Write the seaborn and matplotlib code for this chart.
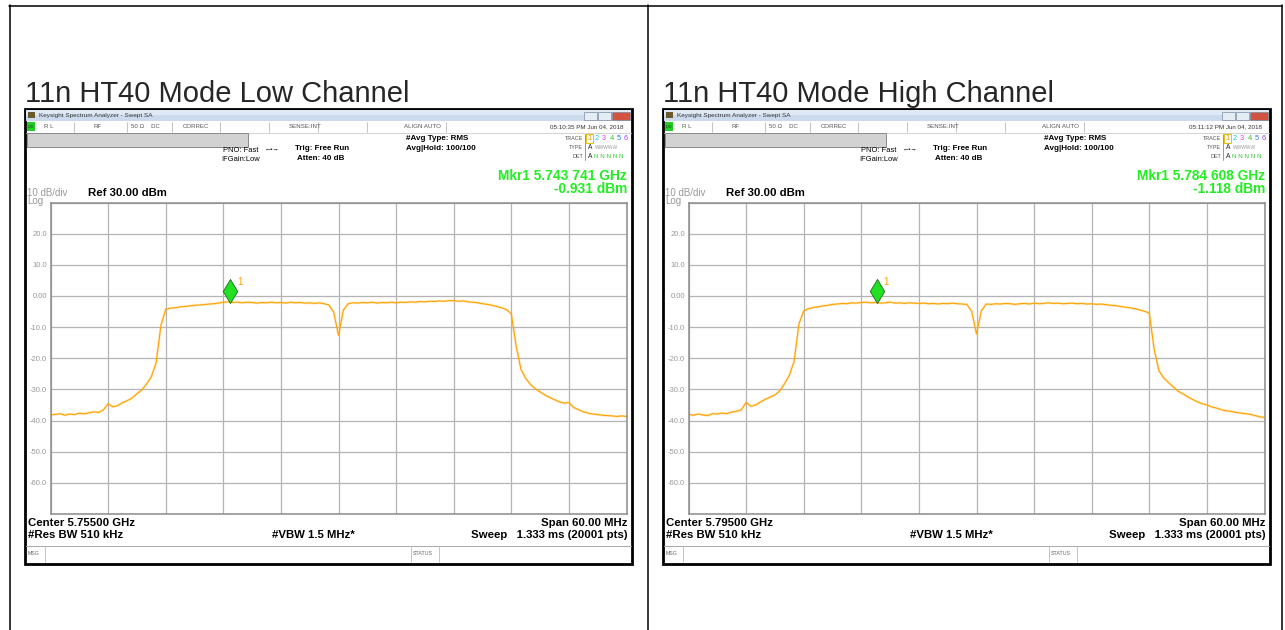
import numpy as np
import seaborn as sns
import matplotlib.pyplot as plt
from matplotlib.patches import Rectangle
from matplotlib import transforms

# page / table data
titles = ["11n HT40 Mode Low Channel", "11n HT40 Mode High Channel"]
center_labels = ["Center 5.75500 GHz", "Center 5.79500 GHz"]
timestamps = ["05:10:35 PM Jun 04, 2018", "05:11:12 PM Jun 04, 2018"]
marker_freq_labels = ["Mkr1 5.743 741 GHz", "Mkr1 5.784 608 GHz"]
marker_level_labels = ["-0.931 dBm", "-1.118 dBm"]
marker_offset_mhz = [-11.259, -10.392]   # marker freq - center freq
marker_level_dbm = [-0.931, -1.118]

# trace: offset from center in MHz (span 60 MHz), level in dBm
offset_mhz = np.arange(-30, 30.01, 0.5)
low_trace = [
    -38.2, -38.0, -37.8, -38.3, -37.9, -38.1, -37.6, -37.9, -37.5, -37.2, -37.4, -36.6,
    -34.6, -35.6, -35.2, -34.3, -33.6, -32.8, -31.4, -30.2, -28.3, -26.0, -21.5, -9.5,
    -4.3, -3.9, -3.8, -3.5, -3.4, -3.2, -3.0, -2.9, -2.8, -2.6, -2.5, -2.3,
    -2.0, -1.9, -2.1, -2.0, -2.2, -2.0, -2.1, -2.3, -2.1, -2.2, -2.0, -2.2,
    -2.1, -2.3, -2.0, -2.2, -2.1, -2.3, -2.2, -2.4, -2.2, -2.5, -2.9, -5.2,
    -12.7, -4.6, -2.5, -2.2, -2.3, -2.1, -2.2, -2.0, -2.3, -2.1, -2.2, -2.0,
    -2.2, -2.0, -2.1, -1.9, -2.0, -1.8, -1.9, -1.7, -1.8, -1.6, -1.7, -1.5,
    -1.5, -1.7, -1.6, -1.9, -2.0, -2.2, -2.5, -2.7, -3.0, -3.4, -3.8, -4.4,
    -5.7, -16.0, -23.5, -26.5, -28.4, -29.8, -30.8, -31.8, -32.6, -33.3, -34.0, -34.4,
    -34.2, -35.8, -36.5, -37.2, -37.6, -37.9, -38.1, -38.3, -38.4, -38.5, -38.7, -38.5,
    -38.7,
]
high_trace = [
    -38.0, -38.3, -37.9, -38.2, -38.4, -37.8, -37.9, -37.6, -37.8, -37.3, -37.0, -36.6,
    -34.2, -35.4, -35.0, -34.0, -33.2, -32.5, -31.8, -30.5, -28.2, -25.5, -21.0, -9.0,
    -4.8, -4.1, -3.7, -3.5, -3.2, -3.0, -2.7, -2.6, -2.4, -2.5, -2.2, -2.3,
    -2.1, -2.0, -2.2, -2.1, -2.3, -2.2, -2.0, -2.3, -2.2, -2.4, -2.2, -2.3,
    -2.4, -2.3, -2.5, -2.4, -2.6, -2.4, -2.5, -2.3, -2.5, -2.6, -2.7, -5.0,
    -12.2, -4.8, -2.6, -2.7, -2.5, -2.6, -2.4, -2.5, -2.7, -2.5, -2.4, -2.6,
    -2.3, -2.5, -2.4, -2.2, -2.4, -2.3, -2.5, -2.4, -2.3, -2.5, -2.4, -2.6,
    -2.5, -2.7, -2.6, -2.8, -3.0, -3.1, -3.4, -3.6, -3.8, -4.1, -4.5, -4.9,
    -5.5, -17.0, -24.0, -26.3, -27.8, -29.2, -30.6, -31.4, -32.4, -33.2, -34.0, -34.6,
    -35.0, -35.6, -36.0, -36.5, -36.9, -37.0, -37.4, -37.6, -37.8, -38.0, -38.4, -38.8,
    -39.0,
]
traces = [low_trace, high_trace]
ytick_values = [30, 20, 10, 0, -10, -20, -30, -40, -50, -60, -70]
ytick_labels = ["", "20.0", "10.0", "0.00", "-10.0", "-20.0", "-30.0", "-40.0", "-50.0", "-60.0", ""]
trace_digits = ["1", "2", "3", "4", "5", "6"]
trace_digit_colors = ["#e89a00", "#00c8f0", "#ff30ff", "#30c030", "#3070ff", "#a040ff"]

W, H = 1285, 630
sns.set_style("white")
plt.rcParams["font.family"] = ["Liberation Sans", "DejaVu Sans"]

fig = plt.figure(figsize=(W / 100, H / 100), dpi=100)
bg = fig.add_axes([0, 0, 1, 1])
bg.set_xlim(0, W)
bg.set_ylim(H, 0)
bg.axis("off")


def px_rect(x0, y0, x1, y1):
    return [x0 / W, 1 - y1 / H, (x1 - x0) / W, (y1 - y0) / H]


def txt(x, y, s, size=5, color="black", weight="normal", ha="left", **kw):
    bg.text(x, y, s, fontsize=size, color=color, fontweight=weight, ha=ha, va="center", **kw)


# table lines
bg.plot([9, 1282], [5.5, 5.5], color="black", lw=1.1)
for xl in [9.5, 648, 1281.5]:
    bg.plot([xl, xl], [5, 630], color="black", lw=1.1)


def draw_panel(k, dx):
    trace = traces[k]
    # title above screenshot
    bg.text(25 + dx, 102, titles[k], fontsize=21, va="baseline", ha="left")

    # window frame
    bg.add_patch(Rectangle((25 + dx, 109), 607, 455, fc="white", ec="black", lw=2.0, zorder=1))
    # title bar
    bg.add_patch(Rectangle((26 + dx, 110), 605, 5, fc="#dfe9f6", ec="none", zorder=2))
    bg.add_patch(Rectangle((26 + dx, 115), 605, 6, fc="#cbdaed", ec="none", zorder=2))
    bg.add_patch(Rectangle((28 + dx, 112), 7, 6, fc="#6b5a2a", ec="none", zorder=3))
    txt(39 + dx, 115.5, "Keysight Spectrum Analyzer - Swept SA", size=4.6, color="#333333", zorder=4)
    for bx, bw, col in [(584, 13, "#e4ecf6"), (598, 13, "#e4ecf6"), (612, 18, "#d2533f")]:
        bg.add_patch(Rectangle((bx + dx, 111.5), bw, 8, fc=col, ec="#7a8aa0", lw=0.5, zorder=3))
    # status row
    bg.add_patch(Rectangle((27 + dx, 121.5), 8, 9.5, fc="#22cc22", ec="none", zorder=3))
    txt(28 + dx, 126.5, "LXI", size=3.2, color="#114411", zorder=4)
    for sx in [74, 127, 172, 220, 269, 318, 367, 446]:
        bg.plot([sx + dx, sx + dx], [122, 132], color="#bbbbbb", lw=0.6, zorder=3)
    bg.plot([26 + dx, 631 + dx], [132.5, 132.5], color="#cccccc", lw=0.6, zorder=3)
    for sx, s in [(44, "R L"), (93, "RF"), (131, "50 \u03a9    DC"), (183, "CORREC"),
                  (289, "SENSE:INT"), (404, "ALIGN AUTO")]:
        txt(sx + dx, 127, s, size=4.4, color="#555555", zorder=4)
    txt(624 + dx, 127, timestamps[k], size=4.5, color="#333333", ha="right", zorder=4)
    # gray message bar
    bg.add_patch(Rectangle((27 + dx, 133), 221, 14, fc="#d2d2d2", ec="#8a8a8a", lw=0.7, zorder=3))

    # settings text
    txt(258 + dx, 151, "PNO: Fast", size=5.4, ha="right", zorder=4)
    txt(260 + dx, 159.5, "IFGain:Low", size=5.4, ha="right", zorder=4)
    txt(265 + dx, 149.5, "\u2190\u2022\u2192", size=4.5, zorder=4)
    txt(295 + dx, 148, "Trig: Free Run", size=5.8, weight="bold", zorder=4)
    txt(297 + dx, 158, "Atten: 40 dB", size=5.8, weight="bold", zorder=4)
    txt(406 + dx, 138, "#Avg Type: RMS", size=5.8, weight="bold", zorder=4)
    txt(406 + dx, 148, "Avg|Hold: 100/100", size=5.8, weight="bold", zorder=4)

    # trace legend block
    txt(583 + dx, 138, "TRACE", size=3.9, color="#555555", ha="right", zorder=4)
    txt(583 + dx, 147.5, "TYPE", size=3.9, color="#555555", ha="right", zorder=4)
    txt(583 + dx, 156.5, "DET", size=3.9, color="#555555", ha="right", zorder=4)
    bg.plot([585 + dx, 585 + dx], [134, 160], color="#888888", lw=0.6, zorder=3)
    bg.add_patch(Rectangle((586 + dx, 133.5), 6.5, 9, fc="none", ec="#e8c000", lw=0.7, zorder=3))
    for j, (d, c) in enumerate(zip(trace_digits, trace_digit_colors)):
        txt(587.5 + dx + j * 7.3, 138, d, size=5.4, color=c, zorder=4)
    txt(587.5 + dx, 147.5, "A", size=4.8, color="#222222", zorder=4)
    txt(594.5 + dx, 147.5, "WWWWW", size=3.5, color="#999999", zorder=4)
    txt(587.5 + dx, 156.5, "A", size=4.8, color="#222222", zorder=4)
    txt(594.5 + dx, 156.5, "N N N N N", size=4.5, color="#33cc33", zorder=4)

    # marker readout
    txt(627 + dx, 176, marker_freq_labels[k], size=9.9, color="#22ee22", weight="bold", ha="right", zorder=4)
    txt(627 + dx, 189, marker_level_labels[k], size=9.9, color="#22ee22", weight="bold", ha="right", zorder=4)

    txt(27 + dx, 193.5, "10 dB/div", size=7, color="#999999", zorder=4)
    txt(27 + dx, 201, "Log", size=7, color="#999999", zorder=4)
    txt(88 + dx, 193, "Ref 30.00 dBm", size=8.2, weight="bold", zorder=4)

    # bottom annotation
    txt(28 + dx, 523, center_labels[k], size=8.2, weight="bold", zorder=4)
    txt(28 + dx, 535.5, "#Res BW 510 kHz", size=8.2, weight="bold", zorder=4)
    txt(313 + dx, 535.5, "#VBW 1.5 MHz*", size=8.2, weight="bold", ha="center", zorder=4)
    txt(627 + dx, 523, "Span 60.00 MHz", size=8.2, weight="bold", ha="right", zorder=4)
    txt(628 + dx, 535.5, "Sweep   1.333 ms (20001 pts)", size=8.2, weight="bold", ha="right", zorder=4)
    bg.plot([26 + dx, 631 + dx], [545.5, 545.5], color="#aaaaaa", lw=0.7, zorder=3)
    for sx in [45, 411, 439]:
        bg.plot([sx + dx, sx + dx], [546, 562], color="#bbbbbb", lw=0.6, zorder=3)
    txt(28 + dx, 553.5, "MSG", size=3.8, color="#666666", zorder=4)
    txt(413 + dx, 553.5, "STATUS", size=3.8, color="#666666", zorder=4)

    # graticule + trace
    ax = fig.add_axes(px_rect(50.5 + dx, 202.5, 626.5 + dx, 514))
    ax.set_facecolor("white")
    sns.lineplot(x=offset_mhz, y=trace, ax=ax, color="#ffc04d", linewidth=1.8,
                 alpha=0.35, errorbar=None, legend=False)
    sns.lineplot(x=offset_mhz, y=trace, ax=ax, color="#ffa200", linewidth=0.8,
                 errorbar=None, legend=False)
    ax.set_xlim(-30, 30)
    ax.set_ylim(-70, 30)
    ax.set_xticks(np.arange(-30, 31, 6))
    ax.set_xticklabels([])
    ax.set_yticks(ytick_values)
    ax.set_yticklabels(ytick_labels, color="#999999", fontsize=5.5)
    ax.tick_params(length=0, pad=2.5)
    ax.grid(True, color="#b4b4b4", lw=0.9)
    ax.set_axisbelow(True)
    for sp in ax.spines.values():
        sp.set_color("#8c8c8c")
        sp.set_linewidth(1.1)
    ax.set_xlabel("")
    ax.set_ylabel("")

    # marker diamond sitting on the trace
    lift = transforms.ScaledTranslation(0, 8 / 100, fig.dpi_scale_trans)
    ax.scatter([marker_offset_mhz[k]], [marker_level_dbm[k]], marker="d", s=150,
               color="#22e022", edgecolor="#1b6b1b", linewidth=0.6, zorder=5,
               transform=ax.transData + lift, clip_on=False)
    label_shift = transforms.ScaledTranslation(7 / 100, 17 / 100, fig.dpi_scale_trans)
    ax.text(marker_offset_mhz[k], marker_level_dbm[k], "1", color="#ffa200", fontsize=7,
            ha="left", va="center", transform=ax.transData + label_shift)


draw_panel(0, 0)
draw_panel(1, 638)

fig.savefig("out.png", dpi=100)
